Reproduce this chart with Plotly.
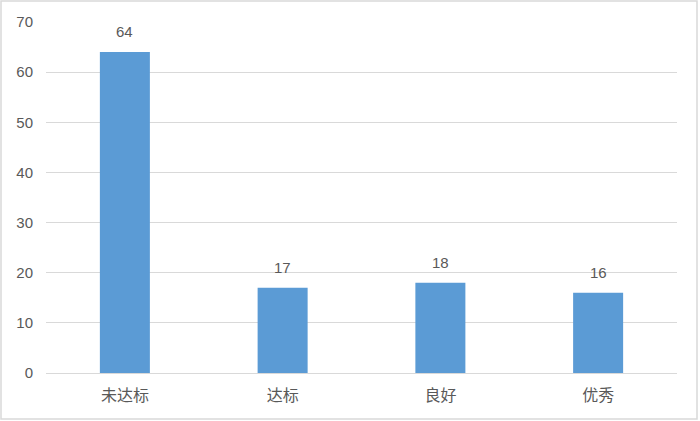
import plotly.graph_objects as go

categories = ["未达标", "达标", "良好", "优秀"]
values = [64, 17, 18, 16]
y_ticks = [0, 10, 20, 30, 40, 50, 60, 70]

W, H = 700, 421
ml, mr, mt, mb = 46, 23, 22, 48
pw, ph = W - ml - mr, H - mt - mb

bar_color = "#5B9BD5"
text_color = "#595959"
grid_color = "#D9D9D9"
num_font = "Liberation Sans, Arial, sans-serif"
cjk_font = "Noto Sans CJK SC, Noto Sans, sans-serif"

fig = go.Figure()
fig.add_trace(go.Bar(
    x=categories, y=values, marker=dict(color=bar_color, line=dict(width=0)),
    hoverinfo="skip",
))

for c, v in zip(categories, values):
    fig.add_annotation(x=c, y=v, text=str(v), showarrow=False, yanchor="bottom",
                       yshift=10, font=dict(size=15, color=text_color, family=num_font))

fig.add_shape(type="rect", xref="paper", yref="paper",
              x0=-(ml - 1) / pw, x1=1 + (mr - 3) / pw,
              y0=-(mb - 2) / ph, y1=1 + (mt - 1) / ph,
              line=dict(color=grid_color, width=1.5), fillcolor="rgba(0,0,0,0)", layer="below")

fig.update_layout(
    width=W, height=H,
    margin=dict(l=ml, r=mr, t=mt, b=mb),
    paper_bgcolor="white", plot_bgcolor="white",
    bargap=0.683,
    showlegend=False,
    font=dict(family=num_font, size=15, color=text_color),
    xaxis=dict(showgrid=False, showline=True, linecolor=grid_color, linewidth=1,
               ticks="", ticklabelstandoff=8,
               tickfont=dict(size=16, color=text_color, family=cjk_font)),
    yaxis=dict(range=[0, 70], tickvals=y_ticks, showgrid=True, gridcolor=grid_color,
               gridwidth=1, zeroline=False, ticks="", showline=False,
               ticklabelstandoff=12,
               tickfont=dict(size=15, color=text_color, family=num_font)),
)

fig.write_html("out.html", config={"displayModeBar": False},
               post_script="document.body.style.margin='0';document.body.style.overflow='hidden';")
